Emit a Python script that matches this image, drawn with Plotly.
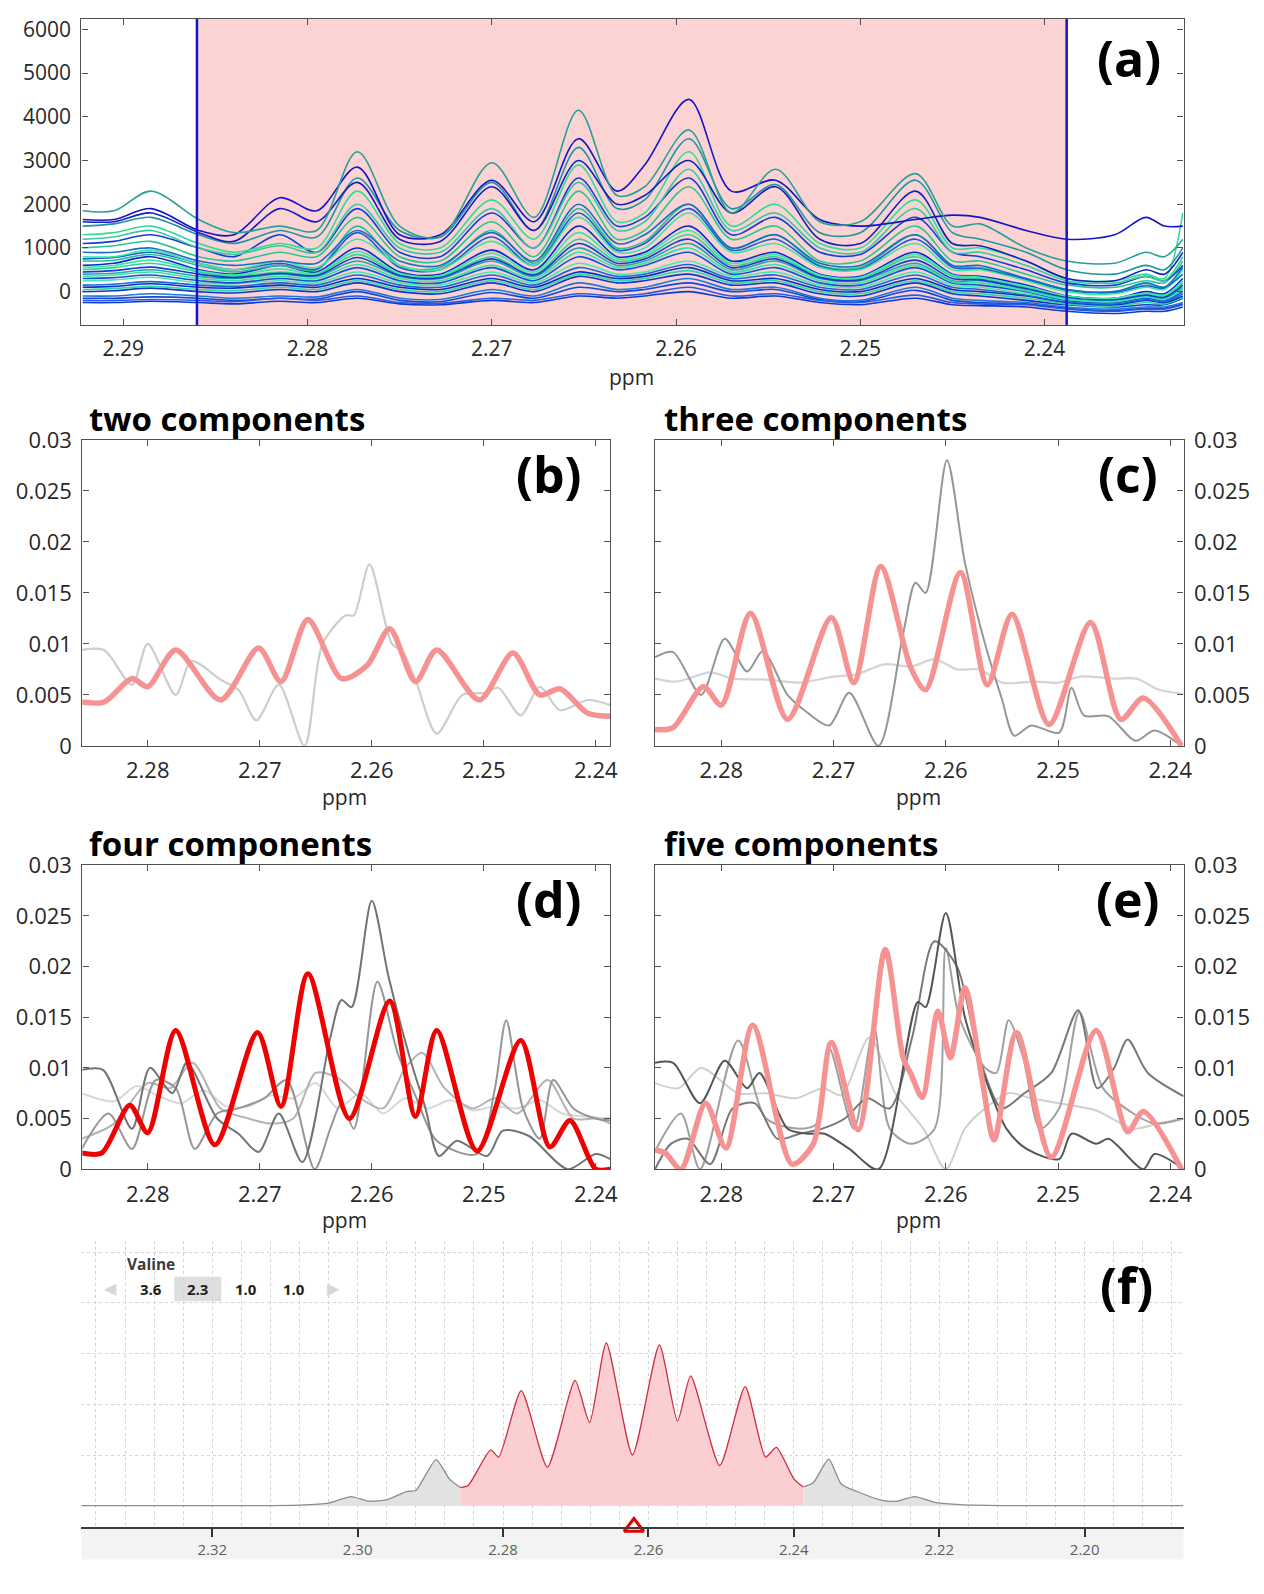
import plotly.graph_objects as go

W, H = 1264, 1594
FONT = "Open Sans"

# ---------------- panel (a): overlaid spectra ----------------
ppm_a = [2.2922, 2.2905, 2.2885, 2.2859, 2.2840, 2.2815, 2.2795, 2.2773, 2.2750, 2.2728,
         2.2700, 2.2677, 2.2653, 2.2632, 2.2617, 2.2593, 2.2570, 2.2546, 2.2522, 2.2500,
         2.2470, 2.2450, 2.2435, 2.2410, 2.2388, 2.2362, 2.2345, 2.2335, 2.2325]

a01 = [-250, -250, -220, -250, -280, -220, -250, -150, -280, -300, -200, -250, -100, -150, -100, 0, -150, -100, -250, -300, -150, -300, -320, -350, -450, -500, -450, -450, -350]
a02 = [-200, -200, -180, -200, -230, -150, -200, -100, -250, -270, -150, -200, -50, -100, -50, 100, -100, -50, -200, -250, -80, -250, -280, -300, -400, -450, -400, -400, -300]
a03 = [-100, -100, -50, -100, -150, -100, -120, 50, -150, -180, 50, -100, 200, 50, 100, 300, 50, 100, -150, -200, 100, -150, -200, -250, -350, -400, -350, -350, -250]
a04 = [100, 120, 180, 100, 80, 150, 100, 300, 100, 50, 300, 100, 450, 300, 350, 550, 250, 300, 50, 0, 300, 50, 0, -100, -250, -300, -200, -250, -100]
a05 = [250, 270, 330, 200, 180, 250, 200, 450, 200, 150, 450, 200, 650, 400, 450, 700, 350, 450, 150, 100, 450, 150, 100, -50, -200, -250, -150, -200, 50]
a06 = [300, 320, 380, 250, 200, 300, 250, 550, 250, 200, 550, 250, 800, 500, 600, 900, 400, 550, 200, 150, 550, 200, 150, 0, -200, -250, -150, -200, 0]
a07 = [400, 420, 500, 350, 300, 400, 350, 700, 350, 300, 700, 350, 1000, 600, 700, 1100, 500, 700, 300, 250, 650, 250, 250, 50, -150, -200, -100, -150, 100]
a08 = [500, 550, 650, 450, 350, 450, 400, 850, 400, 350, 800, 400, 1200, 700, 800, 1300, 600, 800, 350, 300, 800, 350, 300, 100, -100, -150, -50, -100, 200]
a09 = [600, 650, 800, 500, 400, 600, 450, 1000, 450, 400, 950, 500, 1500, 800, 900, 1500, 700, 900, 400, 350, 900, 400, 350, 150, -100, -150, 0, -50, 300]
a10 = [700, 720, 850, 600, 450, 600, 500, 1500, 600, 550, 1400, 650, 1900, 1000, 1150, 2000, 1000, 1300, 600, 550, 1300, 600, 550, 300, 50, 0, 150, 100, 600]
a11 = [800, 800, 950, 650, 500, 700, 550, 1200, 600, 500, 1150, 600, 1700, 900, 1000, 1800, 900, 1100, 550, 500, 1100, 500, 500, 250, 0, -50, 100, 50, 500]
a12 = [900, 900, 1000, 700, 600, 700, 650, 1400, 700, 600, 1350, 700, 2000, 1100, 1300, 2000, 1000, 1300, 650, 600, 1300, 600, 600, 300, 50, 0, 200, 100, 400]
a13 = [1000, 1050, 1150, 800, 700, 900, 800, 1700, 800, 700, 1600, 800, 2300, 1200, 1400, 2400, 1200, 1500, 700, 700, 1500, 700, 700, 400, 150, 100, 250, 200, 700]
a14 = [1100, 1150, 1300, 1000, 800, 1300, 900, 1900, 900, 800, 1800, 1000, 2600, 1500, 1700, 2600, 1300, 1700, 900, 850, 1700, 900, 800, 500, 200, 150, 350, 250, 600]
a15 = [1200, 1250, 1400, 1000, 850, 1050, 900, 2000, 1000, 900, 1900, 1000, 2500, 1400, 1600, 2800, 1400, 1800, 1000, 900, 1900, 900, 900, 600, 250, 200, 350, 250, 800]
a16 = [1300, 1350, 1500, 1100, 900, 1100, 1000, 2300, 1100, 1000, 2100, 1200, 2900, 1600, 1800, 3200, 1500, 2000, 1100, 1000, 2100, 1000, 1000, 700, 300, 250, 400, 300, 1800]
a17 = [1500, 1550, 1700, 1300, 1100, 1400, 1250, 2600, 1400, 1250, 2500, 1400, 3300, 1900, 2100, 3500, 1900, 2450, 1350, 1350, 2550, 1350, 1200, 900, 500, 400, 600, 500, 1000]
a18 = [1600, 1600, 1800, 1350, 1150, 1900, 1600, 2500, 1200, 1150, 2400, 1400, 3000, 2000, 2200, 3000, 1800, 2400, 1200, 1100, 2300, 1100, 1050, 700, 300, 250, 500, 400, 900]
a19 = [1650, 1650, 1900, 1400, 1300, 2150, 1850, 2850, 1300, 1300, 2550, 1600, 3500, 2300, 2900, 4400, 2300, 2550, 1650, 1500, 1650, 1750, 1700, 1400, 1200, 1300, 1700, 1500, 1500]
a20 = [1850, 1850, 2300, 1650, 1350, 1500, 1400, 3200, 1500, 1250, 2950, 1700, 4150, 2200, 2400, 3700, 1800, 2800, 1600, 1600, 2700, 1500, 1550, 1000, 700, 650, 900, 800, 1200]
a21 = [0, 20, 80, 0, -30, 50, 0, 200, 0, -50, 200, 0, 350, 200, 250, 400, 150, 200, -50, -100, 200, -50, -100, -200, -300, -350, -300, -300, -150]
a22 = [150, 170, 230, 150, 120, 200, 150, 380, 150, 100, 380, 150, 550, 350, 400, 620, 300, 380, 100, 50, 380, 100, 50, -80, -230, -280, -180, -230, -50]
a23 = [350, 380, 450, 300, 250, 350, 300, 620, 300, 250, 600, 300, 900, 550, 650, 1000, 450, 620, 250, 200, 600, 220, 200, 20, -180, -230, -120, -180, 50]
a24 = [550, 600, 720, 480, 380, 520, 420, 920, 420, 370, 880, 450, 1350, 750, 850, 1400, 650, 850, 380, 330, 850, 380, 330, 120, -100, -150, -30, -80, 250]
a25 = [-150, -150, -120, -150, -200, -150, -170, 0, -200, -230, -20, -150, 100, 0, 50, 200, 0, 50, -180, -230, 30, -200, -250, -280, -380, -430, -380, -380, -280]
a26 = [50, 70, 120, 50, 20, 100, 50, 250, 50, 0, 250, 50, 400, 250, 300, 480, 200, 250, 0, -50, 250, 0, -50, -150, -280, -330, -250, -280, -130]
a27 = [750, 780, 900, 650, 500, 650, 520, 1350, 550, 500, 1250, 600, 1800, 950, 1100, 1900, 950, 1200, 580, 520, 1200, 560, 520, 280, 30, -20, 130, 80, 550]
a28 = [450, 480, 560, 400, 320, 420, 370, 780, 370, 320, 750, 380, 1100, 650, 750, 1200, 550, 750, 320, 270, 720, 300, 270, 70, -120, -180, -80, -130, 150]

spectra_a = [a01, a25, a02, a03, a21, a26, a04, a22, a05, a06, a07, a23, a08, a28,
             a09, a24, a10, a27, a11, a12, a13, a14, a15, a16, a17, a18, a19, a20]
colors_a = ["rgb(10,60,210)", "rgb(20,70,215)", "rgb(40,90,230)", "rgb(30,120,220)",
            "rgb(15,55,205)", "rgb(50,215,160)", "rgb(0,50,200)", "rgb(30,100,220)",
            "rgb(70,235,170)", "rgb(20,80,220)", "rgb(30,170,170)", "rgb(60,225,160)",
            "rgb(50,210,150)", "rgb(20,60,210)", "rgb(10,40,210)", "rgb(60,230,165)",
            "rgb(40,190,150)", "rgb(30,90,215)", "rgb(60,230,160)", "rgb(20,110,200)",
            "rgb(40,200,140)", "rgb(20,60,220)", "rgb(60,200,160)", "rgb(50,220,150)",
            "rgb(30,150,160)", "rgb(20,30,190)", "rgb(20,20,200)", "rgb(40,160,150)"]
region_a = [2.2860, 2.2388]

# ---------------- panel (b): two components ----------------
b_pink_x = [2.2859, 2.2839, 2.2814, 2.2800, 2.2775, 2.2735, 2.2701, 2.2681, 2.2657, 2.2627,
            2.2604, 2.2584, 2.2561, 2.2542, 2.2504, 2.2474, 2.2450, 2.2432, 2.2407, 2.2387]
b_pink_y = [0.0043, 0.0043, 0.0066, 0.0058, 0.0094, 0.0045, 0.0096, 0.0063, 0.0124, 0.0066,
            0.0079, 0.0115, 0.0063, 0.0094, 0.0045, 0.0091, 0.0050, 0.0056, 0.0032, 0.0029]
b_gray_x = [2.2859, 2.2839, 2.2814, 2.2800, 2.2775, 2.2761, 2.2735, 2.2719, 2.2703, 2.2683,
            2.2660, 2.2644, 2.2623, 2.2616, 2.2602, 2.2582, 2.2573, 2.2561, 2.2542, 2.2519,
            2.2499, 2.2487, 2.2467, 2.2450, 2.2432, 2.2407, 2.2387]
b_gray_y = [0.0094, 0.0094, 0.0060, 0.0100, 0.0050, 0.0083, 0.0065, 0.0055, 0.0025, 0.0060,
            0.0000, 0.0100, 0.0128, 0.0128, 0.0178, 0.0100, 0.0093, 0.0065, 0.0012, 0.0050,
            0.0052, 0.0057, 0.0030, 0.0058, 0.0035, 0.0045, 0.0040]

# ---------------- panel (c): three components ----------------
c_pink_x = [2.2859, 2.2843, 2.2816, 2.2800, 2.2774, 2.2741, 2.2702, 2.2682, 2.2658, 2.2631,
            2.2618, 2.2587, 2.2563, 2.2541, 2.2508, 2.2471, 2.2444, 2.2424, 2.2390]
c_pink_y = [0.0016, 0.0018, 0.0058, 0.0040, 0.0130, 0.0026, 0.0126, 0.0062, 0.0176, 0.0076,
            0.0055, 0.0170, 0.0060, 0.0129, 0.0021, 0.0121, 0.0026, 0.0047, 0.0000]
c_light_x = [2.2859, 2.2840, 2.2810, 2.2790, 2.2760, 2.2730, 2.2700, 2.2680, 2.2655, 2.2630,
             2.2610, 2.2590, 2.2570, 2.2550, 2.2520, 2.2500, 2.2480, 2.2450, 2.2430, 2.2410, 2.2388]
c_light_y = [0.0066, 0.0063, 0.0072, 0.0066, 0.0065, 0.0062, 0.0068, 0.0070, 0.0080, 0.0078,
             0.0085, 0.0075, 0.0075, 0.0062, 0.0063, 0.0062, 0.0068, 0.0066, 0.0066, 0.0055, 0.0051]
c_dark_x = [2.2859, 2.2843, 2.2818, 2.2797, 2.2777, 2.2763, 2.2741, 2.2726, 2.2704, 2.2686,
            2.2660, 2.2638, 2.2627, 2.2618, 2.2599, 2.2583, 2.2565, 2.2550, 2.2539, 2.2524,
            2.2499, 2.2488, 2.2477, 2.2455, 2.2431, 2.2414, 2.2390]
c_dark_y = [0.0087, 0.0092, 0.0050, 0.0105, 0.0073, 0.0093, 0.0050, 0.0035, 0.0020, 0.0052,
            0.0000, 0.0110, 0.0160, 0.0150, 0.0280, 0.0180, 0.0100, 0.0046, 0.0010, 0.0020,
            0.0013, 0.0057, 0.0030, 0.0029, 0.0005, 0.0015, 0.0000]

# ---------------- panel (d): four components ----------------
d_red_x = [2.2859, 2.2841, 2.2816, 2.2800, 2.2775, 2.2740, 2.2702, 2.2681, 2.2657, 2.2620,
           2.2584, 2.2561, 2.2542, 2.2506, 2.2467, 2.2441, 2.2423, 2.2400, 2.2387]
d_red_y = [0.0016, 0.0016, 0.0063, 0.0036, 0.0137, 0.0024, 0.0135, 0.0062, 0.0193, 0.0050,
           0.0166, 0.0052, 0.0137, 0.0018, 0.0127, 0.0022, 0.0048, 0.0000, 0.0000]
d_g1_x = [2.2859, 2.2840, 2.2814, 2.2798, 2.2778, 2.2765, 2.2738, 2.2719, 2.2701, 2.2683,
          2.2662, 2.2637, 2.2627, 2.2618, 2.2600, 2.2585, 2.2566, 2.2552, 2.2540, 2.2524,
          2.2497, 2.2483, 2.2460, 2.2425, 2.2400, 2.2387]
d_g1_y = [0.0098, 0.0098, 0.0040, 0.0100, 0.0075, 0.0105, 0.0050, 0.0035, 0.0017, 0.0055,
          0.0007, 0.0130, 0.0167, 0.0160, 0.0265, 0.0190, 0.0110, 0.0060, 0.0013, 0.0028,
          0.0013, 0.0038, 0.0033, 0.0000, 0.0015, 0.0010]
d_g2_x = [2.2859, 2.2835, 2.2814, 2.2793, 2.2775, 2.2758, 2.2738, 2.2719, 2.2696, 2.2676,
          2.2651, 2.2637, 2.2627, 2.2616, 2.2595, 2.2577, 2.2560, 2.2542, 2.2506, 2.2490,
          2.2480, 2.2465, 2.2450, 2.2438, 2.2420, 2.2400, 2.2387]
d_g2_y = [0.0020, 0.0055, 0.0020, 0.0088, 0.0080, 0.0020, 0.0055, 0.0060, 0.0070, 0.0088,
          0.0000, 0.0040, 0.0065, 0.0040, 0.0185, 0.0115, 0.0070, 0.0028, 0.0015, 0.0080,
          0.0147, 0.0060, 0.0030, 0.0088, 0.0060, 0.0050, 0.0048]
d_g3_x = [2.2859, 2.2830, 2.2800, 2.2780, 2.2760, 2.2735, 2.2710, 2.2690, 2.2670, 2.2650,
          2.2630, 2.2610, 2.2590, 2.2570, 2.2555, 2.2535, 2.2510, 2.2490, 2.2470, 2.2443,
          2.2420, 2.2400, 2.2387]
d_g3_y = [0.0030, 0.0045, 0.0085, 0.0080, 0.0105, 0.0060, 0.0050, 0.0045, 0.0050, 0.0095,
          0.0090, 0.0070, 0.0060, 0.0100, 0.0115, 0.0080, 0.0060, 0.0070, 0.0055, 0.0088,
          0.0050, 0.0050, 0.0045]
d_g4_x = [2.2859, 2.2830, 2.2810, 2.2790, 2.2770, 2.2750, 2.2730, 2.2710, 2.2690, 2.2670,
          2.2650, 2.2630, 2.2610, 2.2590, 2.2570, 2.2550, 2.2530, 2.2510, 2.2490, 2.2470,
          2.2450, 2.2430, 2.2410, 2.2387]
d_g4_y = [0.0075, 0.0067, 0.0082, 0.0072, 0.0065, 0.0078, 0.0062, 0.0062, 0.0073, 0.0070,
          0.0085, 0.0060, 0.0075, 0.0055, 0.0070, 0.0060, 0.0068, 0.0058, 0.0062, 0.0060,
          0.0068, 0.0055, 0.0052, 0.0050]

# ---------------- panel (e): five components ----------------
e_pink_x = [2.2859, 2.2850, 2.2836, 2.2814, 2.2796, 2.2772, 2.2737, 2.2718, 2.2702, 2.2678,
            2.2654, 2.2638, 2.2631, 2.2621, 2.2607, 2.2596, 2.2583, 2.2568, 2.2557, 2.2537,
            2.2506, 2.2466, 2.2438, 2.2424, 2.2390]
e_pink_y = [0.0019, 0.0016, 0.0000, 0.0065, 0.0021, 0.0142, 0.0005, 0.0025, 0.0125, 0.0039,
            0.0217, 0.0110, 0.0094, 0.0071, 0.0156, 0.0110, 0.0179, 0.0091, 0.0029, 0.0135,
            0.0012, 0.0137, 0.0037, 0.0057, 0.0000]
e_g1_x = [2.2859, 2.2843, 2.2819, 2.2797, 2.2777, 2.2766, 2.2741, 2.2722, 2.2708, 2.2686,
          2.2660, 2.2625, 2.2618, 2.2600, 2.2583, 2.2565, 2.2546, 2.2528, 2.2499, 2.2488,
          2.2466, 2.2455, 2.2424, 2.2414, 2.2388]
e_g1_y = [0.0105, 0.0105, 0.0065, 0.0107, 0.0080, 0.0095, 0.0040, 0.0035, 0.0035, 0.0020,
          0.0000, 0.0165, 0.0160, 0.0253, 0.0150, 0.0090, 0.0040, 0.0020, 0.0010, 0.0035,
          0.0025, 0.0030, 0.0000, 0.0015, 0.0000]
e_g2_x = [2.2859, 2.2845, 2.2830, 2.2810, 2.2790, 2.2770, 2.2750, 2.2730, 2.2710, 2.2690,
          2.2670, 2.2650, 2.2630, 2.2610, 2.2590, 2.2570, 2.2550, 2.2530, 2.2506, 2.2482,
          2.2465, 2.2450, 2.2438, 2.2420, 2.2388]
e_g2_y = [0.0000, 0.0025, 0.0030, 0.0005, 0.0060, 0.0065, 0.0030, 0.0035, 0.0040, 0.0050,
          0.0070, 0.0060, 0.0130, 0.0225, 0.0200, 0.0110, 0.0060, 0.0075, 0.0095, 0.0157,
          0.0080, 0.0100, 0.0128, 0.0095, 0.0072]
e_g3_x = [2.2859, 2.2836, 2.2819, 2.2785, 2.2760, 2.2730, 2.2715, 2.2704, 2.2682, 2.2664,
          2.2650, 2.2631, 2.2610, 2.2600, 2.2588, 2.2565, 2.2555, 2.2544, 2.2531, 2.2516,
          2.2499, 2.2481, 2.2460, 2.2433, 2.2414, 2.2388]
e_g3_y = [0.0018, 0.0055, 0.0000, 0.0127, 0.0050, 0.0040, 0.0045, 0.0120, 0.0040, 0.0140,
          0.0040, 0.0025, 0.0040, 0.0218, 0.0150, 0.0100, 0.0095, 0.0147, 0.0110, 0.0040,
          0.0060, 0.0155, 0.0080, 0.0055, 0.0045, 0.0050]
e_g4_x = [2.2859, 2.2838, 2.2818, 2.2785, 2.2760, 2.2734, 2.2709, 2.2693, 2.2668, 2.2645,
          2.2620, 2.2600, 2.2583, 2.2565, 2.2544, 2.2524, 2.2499, 2.2466, 2.2433, 2.2411, 2.2388]
e_g4_y = [0.0085, 0.0080, 0.0100, 0.0075, 0.0075, 0.0070, 0.0080, 0.0073, 0.0130, 0.0075,
          0.0040, 0.0000, 0.0040, 0.0060, 0.0075, 0.0070, 0.0065, 0.0058, 0.0040, 0.0045, 0.0050]

# ---------------- panel (f): reference spectrum ----------------
f_left_x = [2.3380, 2.3150, 2.3080, 2.3040, 2.3009, 2.2985, 2.2959, 2.2933, 2.2920, 2.2892, 2.2874, 2.2859]
f_left_y = [0.0, 0.0, 0.01, 0.05, 0.18, 0.09, 0.12, 0.28, 0.30, 0.91, 0.53, 0.36]
f_mid_x = [2.2859, 2.2848, 2.2817, 2.2806, 2.2775, 2.2739, 2.2701, 2.2681, 2.2658, 2.2622,
           2.2585, 2.2560, 2.2542, 2.2502, 2.2467, 2.2439, 2.2424, 2.2400, 2.2387]
f_mid_y = [0.36, 0.40, 1.10, 0.96, 2.27, 0.76, 2.47, 1.64, 3.21, 1.00,
           3.17, 1.67, 2.56, 0.79, 2.35, 0.96, 1.15, 0.53, 0.37]
f_right_x = [2.2387, 2.2373, 2.2352, 2.2335, 2.2313, 2.2280, 2.2258, 2.2234, 2.2204, 2.2171, 2.2100, 2.1864]
f_right_y = [0.37, 0.46, 0.92, 0.43, 0.28, 0.11, 0.09, 0.18, 0.06, 0.02, 0.0, 0.0]
f_marker_ppm = [2.2620]
valine_values = ["3.6", "2.3", "1.0", "1.0"]

ticks_ab = [2.28, 2.27, 2.26, 2.25, 2.24]
ticks_y_comp = [0, 0.005, 0.01, 0.015, 0.02, 0.025, 0.03]
ticks_y_comp_text = ["0", "0.005", "0.01", "0.015", "0.02", "0.025", "0.03"]
ya_ticks = [0, 1000, 2000, 3000, 4000, 5000, 6000]
xa_ticks = [2.29, 2.28, 2.27, 2.26, 2.25, 2.24]


def PX(p):
    return p / W


def PY(p):
    return 1 - p / H


fig = go.Figure()

for vals, col in zip(spectra_a, colors_a):
    fig.add_trace(go.Scatter(x=ppm_a, y=vals, mode="lines", xaxis="x", yaxis="y",
                             line=dict(color=col, width=1.6, shape="spline", smoothing=0.9),
                             showlegend=False, hoverinfo="skip"))


def comp(x, y, ax, color, width):
    fig.add_trace(go.Scatter(x=x, y=y, mode="lines", xaxis="x" + ax, yaxis="y" + ax,
                             line=dict(color=color, width=width, shape="spline", smoothing=0.8),
                             showlegend=False, hoverinfo="skip"))


PINK = "rgb(246,146,146)"
comp(b_gray_x, b_gray_y, "2", "rgb(205,205,205)", 2.2)
comp(b_pink_x, b_pink_y, "2", PINK, 5.5)

comp(c_light_x, c_light_y, "3", "rgb(212,212,212)", 2.2)
comp(c_dark_x, c_dark_y, "3", "rgb(150,150,150)", 2.0)
comp(c_pink_x, c_pink_y, "3", PINK, 5.5)

comp(d_g4_x, d_g4_y, "4", "rgb(215,215,215)", 2.0)
comp(d_g3_x, d_g3_y, "4", "rgb(180,180,180)", 2.0)
comp(d_g2_x, d_g2_y, "4", "rgb(150,150,150)", 2.0)
comp(d_g1_x, d_g1_y, "4", "rgb(115,115,115)", 2.0)
comp(d_red_x, d_red_y, "4", "rgb(240,0,0)", 5)

comp(e_g4_x, e_g4_y, "5", "rgb(208,208,208)", 2.0)
comp(e_g3_x, e_g3_y, "5", "rgb(160,160,160)", 2.0)
comp(e_g2_x, e_g2_y, "5", "rgb(120,120,120)", 2.0)
comp(e_g1_x, e_g1_y, "5", "rgb(85,85,85)", 2.0)
comp(e_pink_x, e_pink_y, "5", PINK, 5.5)

for xs, ys, fc, lc in [(f_left_x, f_left_y, "rgb(226,226,226)", "rgb(140,140,140)"),
                       (f_mid_x, f_mid_y, "rgb(251,206,210)", "rgb(205,45,65)"),
                       (f_right_x, f_right_y, "rgb(226,226,226)", "rgb(140,140,140)")]:
    fig.add_trace(go.Scatter(x=xs, y=ys, mode="lines", xaxis="x6", yaxis="y6",
                             fill="tozeroy", fillcolor=fc,
                             line=dict(color=lc, width=1.3, shape="spline", smoothing=0.6),
                             showlegend=False, hoverinfo="skip"))
fig.add_trace(go.Scatter(x=f_marker_ppm, y=[-0.42], mode="markers", xaxis="x6", yaxis="y6",
                         marker=dict(symbol="triangle-up-open", size=17, color="rgb(230,0,0)",
                                     line=dict(width=3, color="rgb(230,0,0)")),
                         cliponaxis=False, showlegend=False, hoverinfo="skip"))

AXCOL = "rgb(80,80,80)"


def box_x(domain, rng, anchor, tickvals, size):
    return dict(domain=domain, range=rng, anchor=anchor, tickvals=tickvals,
                ticktext=[f"{v:.2f}" for v in tickvals],
                ticks="inside", ticklen=6, tickcolor=AXCOL, showline=True, linecolor=AXCOL,
                linewidth=1.2, mirror="ticks", showgrid=False, zeroline=False,
                tickfont=dict(family=FONT, size=size, color="rgb(40,40,40)"), ticklabelstandoff=5)


def box_y(domain, rng, anchor, tickvals, ticktext, size, side="left"):
    return dict(domain=domain, range=rng, anchor=anchor, tickvals=tickvals, ticktext=ticktext,
                ticks="inside", ticklen=6, tickcolor=AXCOL, showline=True, linecolor=AXCOL,
                linewidth=1.2, mirror="ticks", showgrid=False, zeroline=False,
                tickfont=dict(family=FONT, size=size, color="rgb(40,40,40)"), side=side,
                ticklabelstandoff=5)


CY = [-0.00001, 0.03001]
layout = dict(
    width=W, height=H, autosize=False,
    margin=dict(l=0, r=0, t=0, b=0),
    paper_bgcolor="white", plot_bgcolor="rgba(0,0,0,0)",
    font=dict(family=FONT, color="rgb(40,40,40)"),
    xaxis=box_x([PX(82), PX(1192)], [2.29227, 2.23246], "y", xa_ticks, 21),
    yaxis=box_y([PY(315), PY(3)], [-765, 6240], "x", ya_ticks, [str(v) for v in ya_ticks], 21),
    xaxis2=box_x([PX(83), PX(614.5)], [2.28583, 2.23872], "y2", ticks_ab, 22),
    yaxis2=box_y([PY(744), PY(432)], CY, "x2", ticks_y_comp, ticks_y_comp_text, 22),
    xaxis3=box_x([PX(659.7), PX(1192)], [2.28591, 2.23882], "y3", ticks_ab, 22),
    yaxis3=box_y([PY(744), PY(432)], CY, "x3", ticks_y_comp, ticks_y_comp_text, 22, side="right"),
    xaxis4=box_x([PX(83), PX(614.5)], [2.28583, 2.23872], "y4", ticks_ab, 22),
    yaxis4=box_y([PY(1175.4), PY(865.5)], CY, "x4", ticks_y_comp, ticks_y_comp_text, 22),
    xaxis5=box_x([PX(659.7), PX(1192)], [2.28591, 2.23882], "y5", ticks_ab, 22),
    yaxis5=box_y([PY(1175.4), PY(865.5)], CY, "x5", ticks_y_comp, ticks_y_comp_text, 22, side="right"),
    xaxis6=dict(domain=[PX(82), PX(1192)], range=[2.3380, 2.1864], anchor="y6",
                tick0=2.2, dtick=0.02, tickformat=".2f", ticks="outside", ticklen=8, tickwidth=2,
                tickcolor="rgb(50,50,50)", showline=True, linecolor="rgb(60,60,60)", linewidth=2,
                showgrid=True, gridcolor="rgb(212,212,212)", griddash="dot", gridwidth=1,
                minor=dict(tick0=2.2, dtick=0.004, showgrid=True, gridcolor="rgb(212,212,212)",
                           griddash="dot", gridwidth=1, ticks=""),
                zeroline=False, tickfont=dict(family=FONT, size=15, color="rgb(95,95,95)")),
    yaxis6=dict(domain=[PY(1540), PY(1248)], range=[-0.42, 5.23], anchor="x6",
                tick0=0, dtick=1, showgrid=True, gridcolor="rgb(212,212,212)", griddash="dot",
                gridwidth=1, showticklabels=False, zeroline=False, showline=False, ticks=""),
)
fig.update_layout(**layout)

shapes = [
    dict(type="rect", xref="x", yref="y domain", x0=region_a[0], x1=region_a[1], y0=0, y1=1,
         fillcolor="rgb(251,211,211)", line=dict(width=0), layer="below"),
    dict(type="line", xref="x", yref="y domain", x0=region_a[0], x1=region_a[0], y0=0, y1=1,
         line=dict(color="rgb(20,20,205)", width=2.5), layer="above"),
    dict(type="line", xref="x", yref="y domain", x0=region_a[1], x1=region_a[1], y0=0, y1=1,
         line=dict(color="rgb(20,20,205)", width=2.5), layer="above"),
    dict(type="rect", xref="paper", yref="paper", x0=PX(82), x1=PX(1192), y0=PY(1573), y1=PY(1540),
         fillcolor="rgb(243,243,243)", line=dict(width=0), layer="below"),
    dict(type="rect", xref="paper", yref="paper", x0=PX(175.6), x1=PX(222.9), y0=PY(1310), y1=PY(1285),
         fillcolor="rgb(222,222,222)", line=dict(width=0), layer="below"),
]
fig.update_layout(shapes=shapes)

ann = []


def text(x, y, s, size, bold=False, color="black", xanchor="center", family=FONT):
    ann.append(dict(x=PX(x), y=PY(y), xref="paper", yref="paper", text=s, showarrow=False,
                    xanchor=xanchor, yanchor="middle",
                    font=dict(family=family, size=size, color=color, weight="bold" if bold else "normal")))


for lab, (x, y) in zip(["(a)", "(b)", "(c)", "(d)", "(e)", "(f)"],
                       [(1137, 43), (553, 467), (1136, 467), (553, 900),
                        (1136, 900), (1135, 1293)]):
    text(x, y, lab, 50, bold=True)

for lab, (x, y) in zip(["two components", "three components", "four components", "five components"],
                       [(88, 410), (667, 410), (88, 843), (667, 843)]):
    text(x, y, lab, 33, bold=True, xanchor="left")

for (x, y) in [(636, 367.6), (347.3, 796.3), (924.9, 796.3), (347.3, 1227), (924.9, 1227)]:
    text(x, y, "ppm", 21, color="rgb(40,40,40)")

text(152, 1271.5, "Valine", 15.5, bold=True, color="rgb(60,60,60)")
for v, x in zip(valine_values, [152, 199.3, 247.6, 295.9]):
    text(x, 1297.3, v, 15, bold=True, color="rgb(30,30,30)")
text(110.9, 1297.3, "◀", 16, color="rgb(215,215,215)", family="DejaVu Sans")
text(336, 1297.3, "▶", 16, color="rgb(215,215,215)", family="DejaVu Sans")

fig.update_layout(annotations=ann)

fig.write_html("out.html", config={"displayModeBar": False},
               post_script="document.body.style.margin='0';document.body.style.overflow='hidden';")
